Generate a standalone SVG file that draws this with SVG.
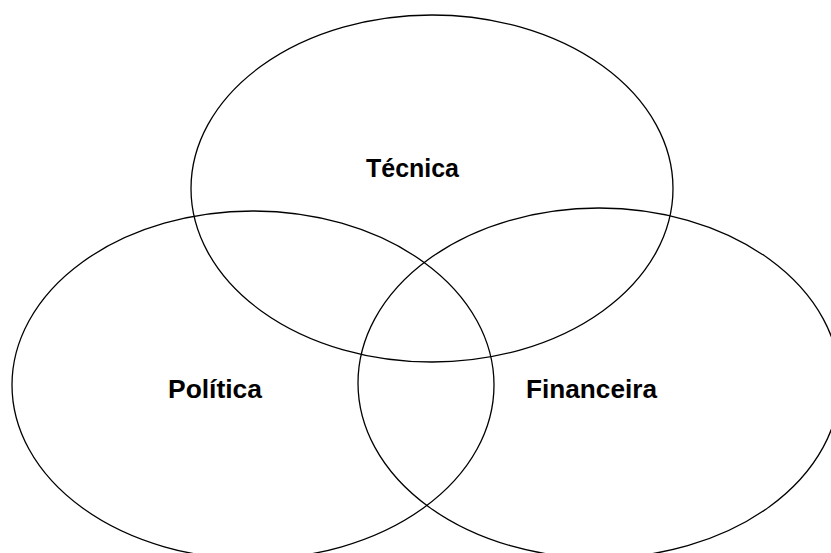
<svg xmlns="http://www.w3.org/2000/svg" width="831" height="553" viewBox="0 0 831 553">
<style>
.c{fill:none;stroke:#000;stroke-width:1.3}
.t{font-family:"Liberation Sans",Arial,sans-serif;font-weight:bold;font-size:26px;fill:#000}
</style>
<rect width="831" height="553" fill="#fff"/>
<g id="tecnica"><ellipse class="c" cx="432" cy="188.5" rx="241" ry="173.5"/><text class="t" x="366" y="177" textLength="93" lengthAdjust="spacingAndGlyphs">Técnica</text></g>
<g id="politica"><ellipse class="c" cx="253" cy="385" rx="241" ry="174"/><text class="t" x="168" y="398" textLength="94" lengthAdjust="spacingAndGlyphs">Política</text></g>
<g id="financeira"><ellipse class="c" cx="599" cy="383" rx="241" ry="175"/><text class="t" x="526" y="398" textLength="131" lengthAdjust="spacingAndGlyphs">Financeira</text></g>
<g id="connectors"/>
</svg>
